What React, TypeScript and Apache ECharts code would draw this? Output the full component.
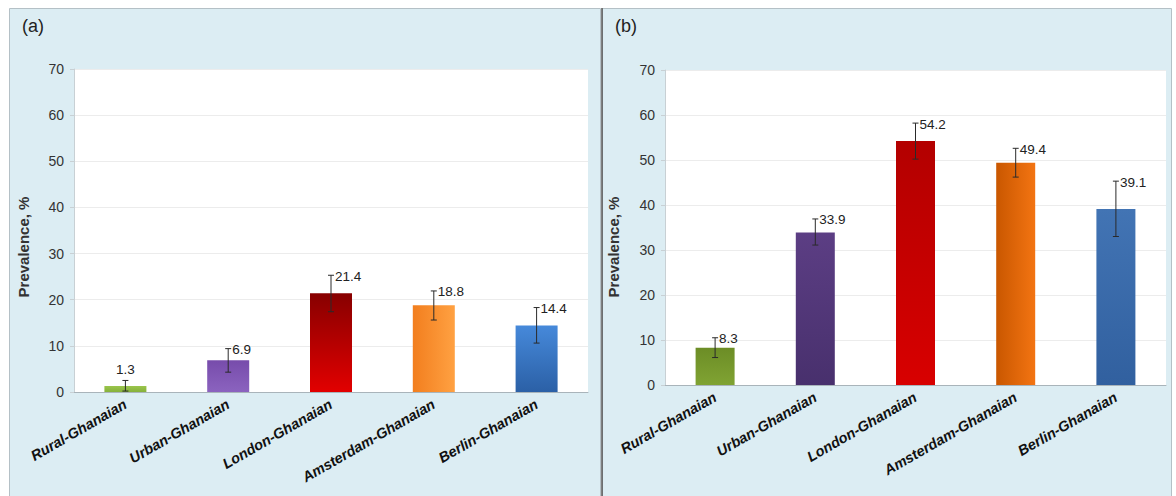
import React, { useEffect, useRef } from "react";
import * as echarts from "echarts";

const categories = ["Rural-Ghanaian", "Urban-Ghanaian", "London-Ghanaian", "Amsterdam-Ghanaian", "Berlin-Ghanaian"];
const yTicks = [0, 10, 20, 30, 40, 50, 60, 70];

const aValues = [1.3, 6.9, 21.4, 18.8, 14.4];
const aLow = [0.2, 4.3, 17.4, 15.6, 10.6];
const aHigh = [2.5, 9.4, 25.3, 21.9, 18.3];

const bValues = [8.3, 33.9, 54.2, 49.4, 39.1];
const bLow = [6.1, 31.1, 50.2, 46.2, 33.0];
const bHigh = [10.5, 36.9, 58.2, 52.6, 45.3];

const aColors = [
  ["#9ac54c", "#86b13a", 0],
  ["#774cab", "#8b63bf", 0],
  ["#870000", "#e20000", 0],
  ["#f27e1e", "#ffa142", 1],
  ["#4689da", "#2b60a6", 0],
];
const bColors = [
  ["#6c8d26", "#80a333", 0],
  ["#5c3e84", "#48306d", 0],
  ["#b30000", "#d80000", 0],
  ["#c95700", "#f37412", 1],
  ["#4274b4", "#31609f", 0],
];

const FONT = "'Liberation Sans', Arial, sans-serif";

function grad(c: any[]) {
  const horiz = c[2] === 1;
  return new echarts.graphic.LinearGradient(0, 0, horiz ? 1 : 0, horiz ? 0 : 1, [
    { offset: 0, color: c[0] as string },
    { offset: 1, color: c[1] as string },
  ]);
}

function errorSeries(idx: number, low: number[], high: number[], vals: number[]) {
  return {
    type: "custom",
    xAxisIndex: idx,
    yAxisIndex: idx,
    z: 5,
    data: categories.map((_, i) => [i, low[i], high[i], vals[i]]),
    encode: { x: 0, y: [1, 2] },
    renderItem: (params: any, api: any) => {
      const i = api.value(0);
      const lo = api.coord([i, api.value(1)]);
      const hi = api.coord([i, api.value(2)]);
      const v = api.value(3);
      const cap = 3;
      const ls = { stroke: "#2a2a2a", lineWidth: 1 };
      const small = v < 3;
      return {
        type: "group",
        children: [
          { type: "line", shape: { x1: hi[0], y1: hi[1], x2: lo[0], y2: lo[1] }, style: ls },
          { type: "line", shape: { x1: hi[0] - cap, y1: hi[1], x2: hi[0] + cap, y2: hi[1] }, style: ls },
          { type: "line", shape: { x1: lo[0] - cap, y1: lo[1], x2: lo[0] + cap, y2: lo[1] }, style: ls },
          {
            type: "text",
            x: small ? hi[0] : hi[0] + 4,
            y: small ? hi[1] - 4 : hi[1] + 1,
            style: {
              text: Number(v).toFixed(1),
              fill: "#222",
              font: "13.5px " + FONT,
              align: small ? "center" : "left",
              verticalAlign: small ? "bottom" : "middle",
            },
          },
        ],
      };
    },
  };
}

export default function App() {
  const ref = useRef<HTMLDivElement>(null);
  useEffect(() => {
    if (!ref.current) return;
    const chart = echarts.init(ref.current, undefined, { renderer: "svg" });
    const yAxisBase = (gi: number) => ({
      type: "value",
      gridIndex: gi,
      min: yTicks[0],
      max: yTicks[yTicks.length - 1],
      interval: 10,
      axisLine: { show: true, lineStyle: { color: "#c8d0d4" } },
      axisTick: { show: true, length: 4, lineStyle: { color: "#c8d0d4" } },
      axisLabel: { color: "#333", fontSize: 14, fontFamily: FONT, margin: 10 },
      splitLine: { show: true, lineStyle: { color: "#ececec" } },
    });
    const xAxisBase = (gi: number) => ({
      type: "category",
      gridIndex: gi,
      data: categories,
      axisLine: { show: true, lineStyle: { color: "#a9b4ba" } },
      axisTick: { show: false },
      axisLabel: {
        rotate: 30,
        interval: 0,
        color: "#111",
        fontSize: 14.5,
        fontWeight: "bold",
        fontStyle: "italic",
        fontFamily: FONT,
        margin: 11,
      },
    });
    chart.setOption({
      animation: false,
      backgroundColor: "#ffffff",
      graphic: [
        { type: "rect", z: -10, shape: { x: 9.5, y: 8.5, width: 591, height: 492 }, style: { fill: "#dcedf3", stroke: "#b4c0c6", lineWidth: 1 } },
        { type: "rect", z: -10, shape: { x: 602.5, y: 8.5, width: 569, height: 492 }, style: { fill: "#dcedf3", stroke: "#b4c0c6", lineWidth: 1 } },
        { type: "line", z: -9, shape: { x1: 602, y1: 8, x2: 602, y2: 496 }, style: { stroke: "#555", lineWidth: 1.5 } },
        { type: "text", left: 22, top: 17, style: { text: "(a)", fill: "#222", font: "18px " + FONT } },
        { type: "text", left: 615, top: 17, style: { text: "(b)", fill: "#222", font: "18px " + FONT } },
        {
          type: "text", x: 23, y: 247, rotation: Math.PI / 2,
          style: { text: "Prevalence, %", fill: "#333", font: "bold 15px " + FONT, align: "center", verticalAlign: "middle" },
        },
        {
          type: "text", x: 613, y: 247, rotation: Math.PI / 2,
          style: { text: "Prevalence, %", fill: "#333", font: "bold 15px " + FONT, align: "center", verticalAlign: "middle" },
        },
      ],
      grid: [
        { left: 74, top: 69, width: 514, height: 323, show: true, backgroundColor: "#ffffff", borderWidth: 0 },
        { left: 665, top: 70, width: 501, height: 315, show: true, backgroundColor: "#ffffff", borderWidth: 0 },
      ],
      xAxis: [xAxisBase(0), xAxisBase(1)],
      yAxis: [yAxisBase(0), yAxisBase(1)],
      series: [
        {
          type: "bar",
          xAxisIndex: 0,
          yAxisIndex: 0,
          barWidth: 42,
          data: aValues.map((v, i) => ({ value: v, itemStyle: { color: grad(aColors[i]) } })),
        },
        {
          type: "bar",
          xAxisIndex: 1,
          yAxisIndex: 1,
          barWidth: 39,
          data: bValues.map((v, i) => ({ value: v, itemStyle: { color: grad(bColors[i]) } })),
        },
        errorSeries(0, aLow, aHigh, aValues),
        errorSeries(1, bLow, bHigh, bValues),
      ],
    });
    return () => chart.dispose();
  }, []);
  return <div ref={ref} style={{ position: "absolute", left: 0, top: 0, width: 1176, height: 496 }} />;
}
